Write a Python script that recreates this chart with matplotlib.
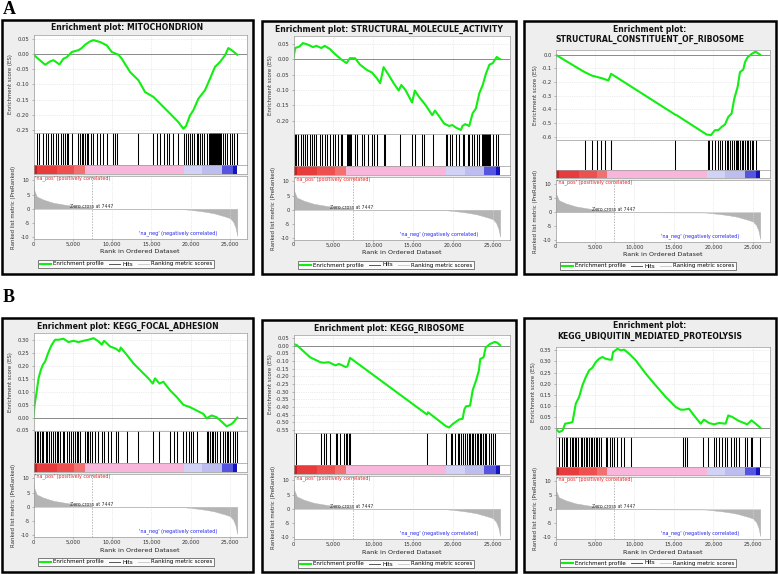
import matplotlib
matplotlib.use('Agg')
import matplotlib.pyplot as plt
from matplotlib.patches import Rectangle
from matplotlib.lines import Line2D

# ---------------- shared data ----------------
x_ticks = [0, 5000, 10000, 15000, 20000, 25000]
x_tick_labels = ['0', '5,000', '10,000', '15,000', '20,000', '25,000']
rank_max = 27100
zero_cross = 7447

ranked_rank = [0, 100, 420, 1270, 2540, 4240, 6360, 7400, 7447, 12000, 18900,
               20000, 21000, 22000, 23000, 24000, 24500, 25000, 25400, 25700, 25930]
ranked_value = [9.0, 6.5, 4.3, 3.2, 2.1, 1.3, 0.7, 0.35, 0.0, -0.02, -0.08,
                -0.4, -0.7, -1.1, -1.6, -2.4, -2.8, -3.3, -4.5, -6.5, -9.5]
ranked_ticks = [10, 5, 0, -5, -10]

cbar_edges = [0, 500, 3000, 5200, 6570, 19150, 21500, 23940, 25420, 25930]
cbar_colors = ['#c81e1e', '#e83c3c', '#ee5050', '#f27070', '#f8b6da',
               '#d2d2f6', '#bdbdf0', '#5555e0', '#1515c0']

# ---------------- panel A1: MITOCHONDRION ----------------
mito_rank = [0, 1483, 2119, 2542, 3305, 3813, 4237, 4873, 5720, 6144, 6567, 7203, 7627,
             8474, 9321, 9957, 10804, 11228, 12287, 13347, 14194, 15253, 16101, 17372,
             18431, 19067, 19405, 19914, 20338, 20973, 21820, 22456, 23092, 23727,
             24363, 24787, 25211, 25930]
mito_es = [-0.002, -0.035, -0.024, -0.02, -0.034, -0.015, -0.01, 0.007, 0.013, 0.02, 0.031,
           0.042, 0.046, 0.04, 0.029, 0.007, -0.002, -0.015, -0.059, -0.086, -0.125, -0.141,
           -0.163, -0.196, -0.224, -0.246, -0.237, -0.202, -0.185, -0.147, -0.119, -0.081,
           -0.042, -0.026, -0.004, 0.02, 0.013, -0.002]
mito_hits = [424, 763, 1186, 1610, 1907, 2203, 2542, 2881, 3178, 3474, 3813, 4025, 4237,
             4449, 4873, 5720, 5932, 6144, 6356, 6567, 6779, 6991, 7288, 7627, 8050, 8474,
             8898, 9321, 10084, 10381, 10677, 13347, 15168, 15677, 16101, 16609, 16948,
             17287, 17795, 18431, 19151, 19405, 19702, 19914, 20168, 20422, 20761, 20973,
             21185, 21439, 21693, 22032, 22329, 24151, 24363, 24575, 24999, 25211, 25507, 25846]
mito_blocks = [(22456, 23939)]
mito_yticks = [0.05, 0.0, -0.05, -0.10, -0.15, -0.20, -0.25]
mito_ylim = (-0.26, 0.063)

# ---------------- panel A2: STRUCTURAL_MOLECULE_ACTIVITY ----------------
sma_rank = [0, 210, 760, 1180, 1810, 2445, 2870, 3500, 3920, 4550, 5185, 6030, 6660, 7080,
            7720, 8350, 9190, 9820, 10455, 10880, 11300, 11930, 12560, 13200, 13530, 14040,
            14880, 15220, 15730, 16570, 17410, 17750, 18260, 18890, 19520, 19940, 20360,
            21000, 21200, 21540, 22050, 22470, 22890, 23310, 23740, 24160, 24580, 25000,
            25500, 25900]
sma_es = [0.003, 0.036, 0.041, 0.052, 0.047, 0.039, 0.043, 0.036, 0.043, 0.033, 0.017,
          -0.002, -0.013, 0.003, 0.003, -0.018, -0.035, -0.043, -0.062, -0.078, -0.026,
          -0.051, -0.078, -0.102, -0.084, -0.1, -0.141, -0.102, -0.122, -0.149, -0.182,
          -0.167, -0.185, -0.209, -0.217, -0.214, -0.222, -0.23, -0.217, -0.211, -0.217,
          -0.176, -0.16, -0.111, -0.084, -0.046, -0.018, -0.013, 0.007, 0.0]
sma_hits = [126, 337, 548, 885, 1180, 1476, 1729, 2024, 2319, 2572, 2867, 3288, 3584, 4005,
            4258, 4553, 4975, 5186, 5607, 5945, 6113, 7715, 7926, 8643, 8896, 9402, 9823,
            10161, 10456, 11299, 11510, 13407, 14883, 15220, 16063, 16358, 17496, 19098,
            19309, 19604, 19941, 20363, 20785, 21206, 21417, 21839, 22050, 22387, 22682,
            22977, 23315, 25085, 25423, 25634]
sma_blocks = [(6661, 7294), (23652, 24790)]
sma_yticks = [0.05, 0.0, -0.05, -0.10, -0.15, -0.20]
sma_ylim = (-0.243, 0.075)

# ---------------- panel A3: STRUCTURAL_CONSTITUENT_OF_RIBOSOME ----------------
scr_rank = [0, 3540, 4600, 5860, 6700, 7040, 15140, 15350, 19140, 19690, 20190, 20620,
            21040, 21460, 21880, 22300, 22640, 23060, 23360, 23780, 23990, 24330, 24830,
            25340, 25900]
scr_es = [0.0, -0.123, -0.153, -0.172, -0.189, -0.14, -0.438, -0.443, -0.584, -0.588,
          -0.552, -0.552, -0.528, -0.511, -0.455, -0.431, -0.322, -0.237, -0.128, -0.109,
          -0.056, -0.019, 0.005, 0.022, 0.0]
scr_hits = [3750, 4600, 5230, 5780, 6280, 7000, 7060, 15140, 19270, 19440, 19860, 20190,
            20530, 20830, 21120, 21460, 21670, 21880, 22090, 22390, 22640, 22810, 22930,
            23150, 23360, 23570, 23780, 23990, 24200, 24410, 24620, 24830, 25040, 25340]
scr_blocks = []
scr_yticks = [0.0, -0.1, -0.2, -0.3, -0.4, -0.5, -0.6]
scr_ylim = (-0.624, 0.034)

# ---------------- panel B1: KEGG_FOCAL_ADHESION ----------------
fa_rank = [0, 130, 340, 640, 930, 1190, 1480, 1780, 2030, 2330, 2750, 3180, 3810, 4450,
           5080, 5720, 6360, 6990, 7630, 8260, 8690, 8980, 9750, 10510, 10930, 11100,
           11860, 12710, 13560, 14620, 15170, 15470, 16020, 16520, 17370, 18220, 19070,
           19910, 20760, 21610, 22030, 22670, 23300, 23940, 24570, 25210, 25510, 25930]
fa_es = [0.0, 0.047, 0.086, 0.151, 0.183, 0.203, 0.216, 0.242, 0.261, 0.281, 0.3, 0.3,
         0.304, 0.291, 0.296, 0.291, 0.296, 0.3, 0.306, 0.294, 0.281, 0.296, 0.274, 0.265,
         0.255, 0.27, 0.242, 0.209, 0.183, 0.151, 0.131, 0.151, 0.131, 0.138, 0.105, 0.079,
         0.049, 0.04, 0.027, 0.014, -0.003, 0.008, 0.001, -0.016, -0.034, -0.025, -0.016, 0.0]
fa_hits = [212, 424, 636, 847, 1059, 1271, 1610, 1780, 2034, 2203, 2457, 2754, 2966, 3178,
           3390, 3729, 3940, 4237, 4576, 4745, 4999, 5296, 5508, 5720, 5932, 6567, 6779,
           6991, 7203, 7415, 7838, 8262, 8686, 8982, 9533, 9830, 10508, 10804, 11864, 13347,
           15168, 16016, 17372, 17880, 18219, 19067, 19405, 19829, 19999, 20338, 20761,
           22032, 22244, 22456, 22668, 22880, 23092, 23388, 23727, 24066, 24363, 24575,
           24787, 24999, 25422, 25634, 25846]
fa_blocks = []
fa_yticks = [0.30, 0.25, 0.20, 0.15, 0.10, 0.05, 0.0, -0.05]
fa_ylim = (-0.052, 0.326)

# ---------------- panel B2: KEGG_RIBOSOME ----------------
rib_rank = [0, 380, 2080, 3360, 3780, 4420, 4850, 5270, 5700, 6120, 6550, 6760, 7100,
            16750, 16880, 19090, 19520, 19940, 20790, 21220, 21430, 21640, 22150, 22490,
            22920, 23260, 23430, 23850, 24110, 24620, 25250, 25550, 25930]
rib_es = [0.011, 0.006, -0.075, -0.107, -0.111, -0.107, -0.118, -0.128, -0.118, -0.128,
          -0.139, -0.135, -0.079, -0.45, -0.435, -0.525, -0.535, -0.514, -0.482, -0.478,
          -0.418, -0.396, -0.392, -0.289, -0.225, -0.161, -0.086, -0.075, -0.011, 0.011,
          0.026, 0.021, 0.004]
rib_hits = [298, 3487, 3784, 4082, 4550, 5272, 5485, 5825, 6335, 6548, 6761, 6973, 7101,
            16753, 19091, 19729, 19942, 20282, 20580, 20792, 21005, 21303, 21558, 21728,
            21983, 22153, 22408, 22578, 22834, 23004, 23131, 23344, 23556, 23769, 23982,
            24194, 24535, 24832, 25045, 25258]
rib_blocks = []
rib_yticks = [0.05, 0.0, -0.05, -0.10, -0.15, -0.20, -0.25, -0.30, -0.35, -0.40, -0.45,
              -0.50, -0.55]
rib_ylim = (-0.571, 0.071)

# ---------------- panel B3: KEGG_UBIQUITIN_MEDIATED_PROTEOLYSIS ----------------
ubq_rank = [0, 460, 890, 1220, 1730, 2150, 2570, 2990, 3410, 3840, 4260, 4680, 5100, 5520,
            5940, 6370, 6870, 7120, 7290, 7840, 8260, 8690, 9320, 10160, 11430, 12690,
            13960, 15220, 15850, 16280, 16910, 17540, 18380, 18800, 19440, 20070, 20700,
            21540, 21880, 22390, 23230, 23860, 24280, 24830, 25340, 25930]
ubq_es = [-0.003, -0.018, -0.011, 0.02, 0.023, 0.027, 0.11, 0.14, 0.192, 0.23, 0.26,
          0.272, 0.297, 0.312, 0.32, 0.312, 0.308, 0.308, 0.342, 0.357, 0.35, 0.353,
          0.335, 0.305, 0.245, 0.192, 0.14, 0.095, 0.083, 0.083, 0.087, 0.057, 0.02, 0.038,
          0.023, 0.017, 0.023, 0.02, 0.057, 0.05, 0.032, 0.023, 0.017, 0.035, 0.02, 0.002]
ubq_hits = [464, 801, 1096, 1307, 1518, 1813, 2066, 2234, 2487, 2656, 2909, 3204, 3415,
            3626, 3837, 4047, 4258, 4469, 4680, 4891, 5101, 5312, 5523, 5734, 6366, 6577,
            6872, 7125, 7420, 7842, 8263, 8685, 9528, 16147, 16400, 16695, 18677, 19351,
            20068, 20363, 20700, 21122, 21459, 21754, 22176, 22598, 22893, 23231, 23990,
            24285, 24706, 24917, 25845]
ubq_blocks = []
ubq_yticks = [0.35, 0.30, 0.25, 0.20, 0.15, 0.10, 0.05, 0.0]
ubq_ylim = (-0.04, 0.365)

# ---------------- figure ----------------
W, H = 778, 574
fig = plt.figure(figsize=(W / 100, H / 100), dpi=100)
plt.rcParams['font.family'] = ['DejaVu Sans']


def add_ax(x0, y0, x1, y1):
    return fig.add_axes([x0 / W, 1 - y1 / H, (x1 - x0) / W, (y1 - y0) / H], zorder=2)


def style(ax):
    for s in ax.spines.values():
        s.set_color('#9a9a9a')
        s.set_linewidth(0.5)
    ax.tick_params(length=1.8, width=0.4, color='#888888', labelsize=3.8,
                   labelcolor='#333333', pad=1.0)


LAYOUT_1 = dict(es=(15, 113), hits=(113, 145), cbar=(145, 154), rank=(156, 219),
                xlabel=232, legend=244)
LAYOUT_2 = dict(es=(29, 119), hits=(119, 149), cbar=(149, 157), rank=(159, 221),
                xlabel=234, legend=245)


def panel(box, title_lines, rank, es, hits, blocks, yticks, ylim, fmt):
    L, T, R, B = box
    lay = LAYOUT_1 if len(title_lines) == 1 else LAYOUT_2
    fig.patches.append(Rectangle((L / W, 1 - B / H), (R - L) / W, (B - T) / H,
                                 transform=fig.transFigure, facecolor='#eeeeee',
                                 edgecolor='black', linewidth=1.8, zorder=-5))
    ax_l, ax_r = L + 31.5, R - 6.5
    # title
    for i, t in enumerate(title_lines):
        fig.text((L + R) / 2 / W, 1 - (T + 8 + 10.5 * i) / H, t, ha='center', va='center',
                 fontsize=5.6, fontweight='bold', color='#111111')
    # ES axes
    ax = add_ax(ax_l, T + lay['es'][0], ax_r, T + lay['es'][1])
    style(ax)
    ax.set_xlim(0, rank_max)
    ax.set_ylim(*ylim)
    ax.set_yticks(yticks)
    ax.set_yticklabels([fmt.format(v) for v in yticks])
    ax.set_xticks(x_ticks)
    ax.tick_params(axis='x', length=0, labelbottom=False)
    ax.grid(True, color='#dcdcdc', lw=0.4, ls=(0, (2, 2)))
    ax.axhline(0, color='#8a8a8a', lw=0.7)
    ax.plot(rank, es, color='#11ee11', lw=1.5, solid_joinstyle='round')
    ax.set_ylabel('Enrichment score (ES)', fontsize=3.9, color='#333333', labelpad=2.5)
    # hits
    hx = add_ax(ax_l, T + lay['hits'][0], ax_r, T + lay['hits'][1])
    style(hx)
    hx.set_xlim(0, rank_max)
    hx.set_ylim(0, 1)
    hx.set_xticks([])
    hx.set_yticks([])
    hx.vlines(hits, 0, 1, color='black', lw=0.75)
    for a, b in blocks:
        hx.axvspan(a, b, color='black', lw=0)
    # colour bar
    cx = add_ax(ax_l, T + lay['cbar'][0], ax_r, T + lay['cbar'][1])
    style(cx)
    cx.set_xlim(0, rank_max)
    cx.set_ylim(0, 1)
    cx.set_xticks([])
    cx.set_yticks([])
    for a, b, c in zip(cbar_edges[:-1], cbar_edges[1:], cbar_colors):
        cx.axvspan(a, b, color=c, lw=0)
    # ranked list metric
    rx = add_ax(ax_l, T + lay['rank'][0], ax_r, T + lay['rank'][1])
    style(rx)
    rx.set_xlim(0, rank_max)
    rx.set_ylim(-10.6, 11.5)
    rx.set_yticks(ranked_ticks)
    rx.set_yticklabels([str(v) for v in ranked_ticks])
    rx.set_xticks(x_ticks)
    rx.set_xticklabels(x_tick_labels)
    rx.tick_params(axis='x', length=1.2, pad=0.6)
    rx.grid(True, axis='x', color='#dcdcdc', lw=0.4, ls=(0, (2, 2)))
    rx.fill_between(ranked_rank, ranked_value, 0, color='#b4b4b4', lw=0.3)
    rx.axvline(zero_cross, color='#9a9a9a', lw=0.5, ls=(0, (2, 2)))
    rx.text(4600, 0.9, 'Zero cross at 7447', fontsize=3.3, color='#333333', va='center')
    rx.text(250, 10.9, "'na_pos' (positively correlated)", fontsize=3.5, color='#ee2222',
            va='center')
    rx.text(13400, -8.6, "'na_neg' (negatively correlated)", fontsize=3.5, color='#2222ee',
            va='center')
    rx.set_ylabel('Ranked list metric (PreRanked)', fontsize=3.9, color='#333333', labelpad=3.5)
    fig.text((ax_l + ax_r) / 2 / W, 1 - (T + lay['xlabel']) / H, 'Rank in Ordered Dataset',
             ha='center', va='center', fontsize=4.6, color='#222222')
    # legend
    handles = [Line2D([], [], color='#11ee11', lw=1.5),
               Line2D([], [], color='#555555', lw=0.7),
               Line2D([], [], color='#cccccc', lw=0.7)]
    leg = fig.legend(handles, ['Enrichment profile', 'Hits', 'Ranking metric scores'],
                     loc='center', bbox_to_anchor=((L + 124) / W, 1 - (T + lay['legend']) / H),
                     ncol=3, fontsize=4.0, frameon=True, fancybox=False,
                     handlelength=2.0, handletextpad=0.4, columnspacing=0.9,
                     borderpad=0.35, borderaxespad=0)
    leg.get_frame().set_edgecolor('#444444')
    leg.get_frame().set_linewidth(0.6)


panel((2, 20, 253, 274), ['Enrichment plot: MITOCHONDRION'], mito_rank, mito_es,
      mito_hits, mito_blocks, mito_yticks, mito_ylim, '{:.2f}')
panel((262, 21, 516, 274), ['Enrichment plot: STRUCTURAL_MOLECULE_ACTIVITY'], sma_rank,
      sma_es, sma_hits, sma_blocks, sma_yticks, sma_ylim, '{:.2f}')
panel((524, 21, 776, 274), ['Enrichment plot:', 'STRUCTURAL_CONSTITUENT_OF_RIBOSOME'],
      scr_rank, scr_es, scr_hits, scr_blocks, scr_yticks, scr_ylim, '{:.1f}')
panel((2, 318, 253, 572), ['Enrichment plot: KEGG_FOCAL_ADHESION'], fa_rank, fa_es,
      fa_hits, fa_blocks, fa_yticks, fa_ylim, '{:.2f}')
panel((262, 320, 516, 572), ['Enrichment plot: KEGG_RIBOSOME'], rib_rank, rib_es,
      rib_hits, rib_blocks, rib_yticks, rib_ylim, '{:.2f}')
panel((524, 318, 776, 572), ['Enrichment plot:', 'KEGG_UBIQUITIN_MEDIATED_PROTEOLYSIS'],
      ubq_rank, ubq_es, ubq_hits, ubq_blocks, ubq_yticks, ubq_ylim, '{:.2f}')

fig.text(3 / W, 1 - 10 / H, 'A', fontsize=13, fontweight='bold', family='Liberation Serif',
         va='center', ha='left')
fig.text(3 / W, 1 - 298 / H, 'B', fontsize=13, fontweight='bold', family='Liberation Serif',
         va='center', ha='left')

fig.savefig('out.png', dpi=100)
